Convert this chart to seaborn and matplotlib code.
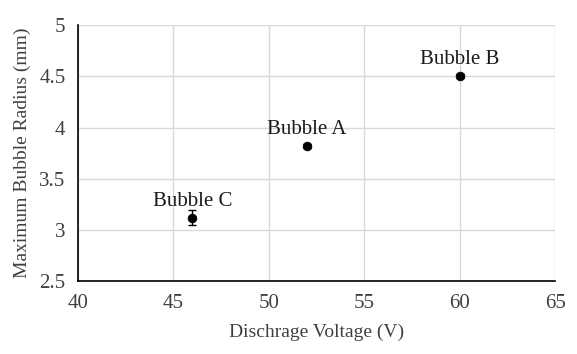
import pandas as pd
import numpy as np
import matplotlib
matplotlib.use("Agg")
import matplotlib.pyplot as plt
import seaborn as sns

# Daten
labels = ["Bubble C", "Bubble A", "Bubble B"]
voltage = [46, 52, 60]
radius = [3.12, 3.82, 4.50]
radius_err = [0.07, 0.02, 0.02]

df = pd.DataFrame({"voltage": voltage, "radius": radius, "err": radius_err, "label": labels})

sns.set_style("whitegrid")
plt.rcParams["font.family"] = ["Liberation Serif", "DejaVu Serif"]

fig = plt.figure(figsize=(5.77, 3.54), dpi=100)
ax = fig.add_axes([0.135, 0.206, 0.827, 0.723])

ax.errorbar(df["voltage"], df["radius"], yerr=df["err"], fmt="none",
            ecolor="black", elinewidth=1, capsize=3, capthick=1, zorder=3)
sns.scatterplot(data=df, x="voltage", y="radius", color="black", s=40,
                marker="o", edgecolor="black", ax=ax, zorder=4)

for _, r in df.iterrows():
    ax.annotate(r["label"], (r["voltage"], r["radius"]), xytext=(0, 5),
                textcoords="offset points", ha="center", va="bottom",
                fontsize=15, color="#1a1a1a")

ax.set_xlim(40, 65)
ax.set_ylim(2.5, 5)
ax.set_xticks(np.arange(40, 66, 5))
ax.set_yticks(np.arange(2.5, 5.01, 0.5))
ax.set_yticklabels(["2.5", "3", "3.5", "4", "4.5", "5"])
ax.tick_params(labelsize=15, colors="#404040", length=0, pad=9)
ax.set_xlabel("Dischrage Voltage (V)", fontsize=14, color="#404040", labelpad=8)
ax.set_ylabel("Maximum Bubble Radius (mm)", fontsize=14, color="#404040", labelpad=6)
ax.grid(True, color="#d9d9d9", linewidth=1)

for side in ["top", "right"]:
    ax.spines[side].set_visible(False)
for side in ["left", "bottom"]:
    ax.spines[side].set_color("black")
    ax.spines[side].set_linewidth(1.2)

fig.savefig("out.png", dpi=100)
